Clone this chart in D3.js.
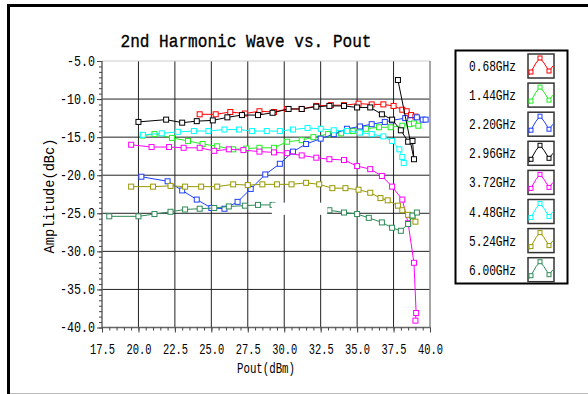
<!DOCTYPE html>
<html>
<head>
<meta charset="utf-8">
<script src="https://cdn.jsdelivr.net/npm/d3@7"></script>
<style>
body { margin: 0; background: #fff; }
text { font-family: "Liberation Mono", "DejaVu Sans Mono", monospace; }
</style>
</head>
<body>
<div id="chart"></div>
<script>

// legend names and colours
var freqLabels = [ "0.68GHz", "1.44GHz", "2.20GHz", "2.96GHz", "3.72GHz", "4.48GHz", "5.24GHz", "6.00GHz" ];
var freqColors = [ "#ff0000", "#22ee22", "#1f3fff", "#000000", "#ff00ff", "#00ffff", "#999900", "#2e8b57" ];

// Pout (dBm) / amplitude (dBc)
var pout068 = [ 24.2, 25.3, 26.3, 27.3, 28.3, 29.3, 30.2, 31.2, 32.2, 33.2, 34.1, 35.1, 36.0, 36.8, 37.5, 38.1, 38.4, 38.7, 39.0 ];
var amp068 = [ -12.0, -12.0, -11.7, -11.9, -11.6, -11.7, -11.3, -11.3, -10.9, -10.8, -10.8, -10.6, -10.7, -10.7, -10.9, -11.4, -11.6, -12.1, -12.3 ];

var pout144 = [ 20.3, 21.1, 22.3, 23.4, 24.4, 25.4, 26.5, 27.4, 28.3, 29.3, 30.2, 31.2, 32.0, 33.0, 33.9, 34.7, 35.6, 36.5, 37.3, 38.1, 38.6, 38.9, 39.2 ];
var amp144 = [ -14.8, -14.6, -15.1, -15.5, -15.9, -16.2, -16.6, -16.5, -16.4, -16.4, -15.6, -15.4, -15.0, -14.6, -14.5, -14.2, -13.9, -13.7, -13.7, -13.5, -13.3, -13.2, -13.5 ];

var pout220 = [ 20.2, 22.0, 23.0, 24.0, 25.0, 25.9, 26.8, 27.7, 28.7, 29.7, 30.6, 31.5, 32.5, 33.4, 34.3, 35.2, 36.0, 36.9, 37.4, 38.3, 39.1, 39.5, 39.7 ];
var amp220 = [ -20.2, -20.8, -22.0, -23.2, -24.3, -24.4, -23.5, -21.8, -19.9, -18.5, -16.9, -15.9, -15.2, -14.6, -13.9, -13.6, -13.3, -13.0, -12.8, -12.5, -12.4, -12.7, -12.7 ];

var pout296 = [ 20.0, 21.9, 23.0, 24.0, 25.1, 26.1, 27.1, 28.2, 29.2, 30.3, 31.2, 32.2, 33.1, 34.1, 35.0, 35.9, 36.7, 37.4, 38.0, 38.5, 38.8, 38.9, 37.8 ];
var amp296 = [ -13.0, -12.7, -13.1, -12.9, -12.8, -12.4, -12.1, -12.1, -11.8, -11.3, -11.3, -11.0, -10.9, -10.9, -11.1, -11.1, -12.0, -12.7, -14.1, -15.6, -15.5, -17.9, -7.5 ];

var pout372 = [ 19.5, 20.9, 22.1, 23.1, 24.2, 25.2, 26.2, 27.2, 28.3, 29.3, 30.2, 31.2, 32.2, 33.1, 34.1, 35.0, 35.9, 36.7, 37.4, 38.1, 38.5, 38.9, 39.05, 39.0 ];
var amp372 = [ -16.0, -16.3, -16.3, -16.4, -16.4, -16.8, -16.6, -16.7, -16.9, -17.0, -17.1, -17.4, -17.7, -17.9, -18.0, -18.8, -19.2, -20.1, -21.5, -23.2, -26.3, -31.5, -38.1, -39.1 ];

var pout448 = [ 20.3, 21.6, 22.7, 23.8, 24.8, 25.9, 26.9, 27.8, 28.8, 29.7, 30.6, 31.6, 32.5, 33.4, 34.3, 35.2, 36.0, 36.8, 37.4, 37.9, 38.1, 38.2 ];
var amp448 = [ -14.7, -14.5, -14.3, -14.2, -14.2, -14.0, -14.0, -14.2, -14.2, -14.2, -14.0, -13.8, -13.9, -14.1, -14.2, -14.4, -14.6, -14.9, -15.5, -16.6, -17.6, -18.4 ];

var pout524 = [ 19.5, 21.0, 22.2, 23.2, 24.3, 25.4, 26.5, 27.5, 28.5, 29.5, 30.5, 31.5, 32.4, 33.3, 34.2, 35.1, 35.9, 36.6, 37.1, 37.8, 38.1, 38.5, 38.8, 39.0 ];
var amp524 = [ -21.5, -21.5, -21.4, -21.5, -21.5, -21.5, -21.2, -21.3, -21.2, -21.2, -21.2, -21.0, -21.2, -21.7, -21.7, -21.9, -22.3, -23.0, -23.3, -24.0, -24.6, -25.2, -25.4, -26.1 ];

var pout600 = [ 18.0, 20.0, 21.1, 22.2, 23.2, 24.2, 25.2, 26.2, 27.3, 28.2, 29.2, 33.1, 34.1, 35.0, 35.8, 36.7, 37.4, 38.0, 38.5, 38.8, 39.1 ];
var amp600 = [ -25.4, -25.4, -25.1, -24.8, -24.5, -24.4, -24.3, -24.1, -24.0, -23.9, -23.9, -24.6, -24.9, -25.1, -25.6, -26.2, -26.9, -27.3, -26.4, -25.3, -24.9 ];

var poutSets = [ pout068, pout144, pout220, pout296, pout372, pout448, pout524, pout600 ];
var ampSets = [ amp068, amp144, amp220, amp296, amp372, amp448, amp524, amp600 ];

// axis ticks
var xTicks = d3.range(17.5, 40.01, 2.5);
var yTicks = d3.range(-5, -40.01, -5);

var svg = d3.select("#chart").append("svg").attr("width", 588).attr("height", 394);

svg.append("rect").attr("width", 588).attr("height", 394).attr("fill", "#fff");

// outer frame
svg.append("line").attr("x1", 7).attr("x2", 588).attr("y1", 5.5).attr("y2", 5.5)
		.attr("stroke", "#000").attr("stroke-width", 3);
svg.append("line").attr("x1", 8.5).attr("x2", 8.5).attr("y1", 4).attr("y2", 394)
		.attr("stroke", "#000").attr("stroke-width", 3);
svg.append("line").attr("x1", 10).attr("x2", 588).attr("y1", 393.5).attr("y2", 393.5)
		.attr("stroke", "#bbb").attr("stroke-width", 1);

var x = d3.scaleLinear().domain([ 17.5, 40 ]).range([ 102, 430 ]);
var y = d3.scaleLinear().domain([ -5, -40 ]).range([ 61, 327.5 ]);

// title
svg.append("text").attr("x", 246).attr("y", 47).attr("text-anchor", "middle")
		.attr("font-size", 19).attr("textLength", 251).attr("lengthAdjust", "spacingAndGlyphs")
		.attr("stroke", "#000").attr("stroke-width", 0.35)
		.text("2nd Harmonic Wave vs. Pout");

// grid
var grid = svg.append("g").attr("class", "grid");
grid.selectAll(".vgrid").data(xTicks.slice(1, -1)).enter().append("line")
		.attr("x1", function(d) { return x(d); }).attr("x2", function(d) { return x(d); })
		.attr("y1", y(-5)).attr("y2", y(-40))
		.attr("stroke", "#222").attr("stroke-width", 1);
grid.selectAll(".hgrid").data(yTicks.slice(1, -1)).enter().append("line")
		.attr("x1", x(17.5)).attr("x2", x(40))
		.attr("y1", function(d) { return y(d); }).attr("y2", function(d) { return y(d); })
		.attr("stroke", "#222").attr("stroke-width", 1);

// plot frame
svg.append("line").attr("x1", x(17.5)).attr("x2", x(40)).attr("y1", y(-5)).attr("y2", y(-5))
		.attr("stroke", "#ccc");
svg.append("line").attr("x1", x(40)).attr("x2", x(40)).attr("y1", y(-5)).attr("y2", y(-40))
		.attr("stroke", "#888").attr("stroke-width", 1.5);
svg.append("line").attr("x1", x(17.5)).attr("x2", x(17.5)).attr("y1", y(-5)).attr("y2", y(-40))
		.attr("stroke", "#666").attr("stroke-width", 1.5);
svg.append("line").attr("x1", x(17.5)).attr("x2", x(40)).attr("y1", y(-40)).attr("y2", y(-40))
		.attr("stroke", "#666").attr("stroke-width", 1.5);

// axes
function styleAxis(g) {
	g.select(".domain").remove();
	g.selectAll("line").attr("stroke", "#444");
	g.attr("font-family", null).attr("font-size", null);
}

var xMinor = svg.append("g").attr("transform", "translate(0," + y(-40) + ")")
		.call(d3.axisBottom(x).tickValues(d3.range(17.5, 40.01, 0.5)).tickSize(3).tickFormat(""));
styleAxis(xMinor);

var xMajor = svg.append("g").attr("transform", "translate(0," + y(-40) + ")")
		.call(d3.axisBottom(x).tickValues(xTicks).tickSize(5).tickFormat(function(d) {
			return d.toFixed(1);
		}));
styleAxis(xMajor);
xMajor.selectAll("text").attr("y", 26.5).attr("dy", null).attr("font-size", 14)
		.attr("fill", "#000").attr("textLength", 25).attr("lengthAdjust", "spacingAndGlyphs");

var yMinor = svg.append("g").attr("transform", "translate(" + x(17.5) + ",0)")
		.call(d3.axisLeft(y).tickValues(d3.range(-5, -40.001, -5 / 7)).tickSize(3).tickFormat(""));
styleAxis(yMinor);

var yMajor = svg.append("g").attr("transform", "translate(" + x(17.5) + ",0)")
		.call(d3.axisLeft(y).tickValues(yTicks).tickSize(5).tickPadding(2).tickFormat(function(d) {
			return d.toFixed(1);
		}));
styleAxis(yMajor);
yMajor.selectAll("text").attr("font-size", 14).attr("fill", "#000")
		.attr("textLength", function(d) { return d.toFixed(1).length * 7; })
		.attr("lengthAdjust", "spacingAndGlyphs");

// axis titles
svg.append("text").attr("x", 266).attr("y", 373).attr("text-anchor", "middle")
		.attr("font-size", 14).attr("textLength", 58).attr("lengthAdjust", "spacingAndGlyphs")
		.text("Pout(dBm)");
svg.append("text").attr("transform", "translate(54,196) rotate(-90)").attr("text-anchor", "middle")
		.attr("font-size", 14).attr("textLength", 115).attr("lengthAdjust", "spacingAndGlyphs")
		.text("Amplitude(dBc)");

// series
var series = freqLabels.map(function(name, i) {
	return {
		name : name,
		color : freqColors[i],
		points : poutSets[i].map(function(p, j) {
			return [ p, ampSets[i][j] ];
		})
	};
});

var line = d3.line().x(function(d) { return x(d[0]); }).y(function(d) { return y(d[1]); });

var layers = svg.selectAll(".series").data(series).enter().append("g").attr("class", "series");

layers.append("path").attr("d", function(d) { return line(d.points); })
		.attr("fill", "none").attr("stroke", function(d) { return d.color; }).attr("stroke-width", 1);

layers.each(function(s) {
	d3.select(this).selectAll("rect").data(s.points).enter().append("rect")
			.attr("x", function(d) { return x(d[0]) - 2.5; })
			.attr("y", function(d) { return y(d[1]) - 2.5; })
			.attr("width", 5).attr("height", 5)
			.attr("fill", "#fff").attr("stroke", s.color).attr("stroke-width", 1);
});

// white patch over part of the plot, as in the source image
svg.append("rect").attr("x", x(29.15)).attr("y", y(-23.6))
		.attr("width", x(32.95) - x(29.15)).attr("height", y(-25.2) - y(-23.6))
		.attr("fill", "#fff");

// legend
var legend = svg.append("g").attr("class", "legend");
legend.append("rect").attr("x", 455.5).attr("y", 50.5).attr("width", 112).attr("height", 233)
		.attr("fill", "#fff").attr("stroke", "#000").attr("stroke-width", 2);

var iconShape = [ [ 1, 21 ], [ 4, 16 ], [ 8, 9 ], [ 12, 4 ], [ 16, 9 ], [ 21, 17 ], [ 25, 12 ] ];
var iconMarks = [ [ 3, 18 ], [ 12, 4 ], [ 21, 17 ] ];
var iconLine = d3.line();

var rows = legend.selectAll(".row").data(series).enter().append("g").attr("class", "row")
		.attr("transform", function(d, i) {
			return "translate(0," + (66 + i * 29.1) + ")";
		});

rows.append("text").attr("x", 469).attr("y", 5).attr("font-size", 14)
		.attr("textLength", 47).attr("lengthAdjust", "spacingAndGlyphs")
		.text(function(d) { return d.name; });

var icons = rows.append("g").attr("transform", "translate(528,-12)");
icons.append("rect").attr("width", 26).attr("height", 24).attr("fill", "#fff")
		.attr("stroke", "#333").attr("stroke-width", 1.5);
icons.append("path").attr("d", iconLine(iconShape)).attr("fill", "none")
		.attr("stroke", function(d) { return d.color; });
icons.each(function(s) {
	d3.select(this).selectAll(".mk").data(iconMarks).enter().append("rect")
			.attr("x", function(d) { return d[0] - 2; }).attr("y", function(d) { return d[1] - 2; })
			.attr("width", 4).attr("height", 4).attr("fill", "#fff").attr("stroke", s.color);
});

</script>
</body>
</html>
